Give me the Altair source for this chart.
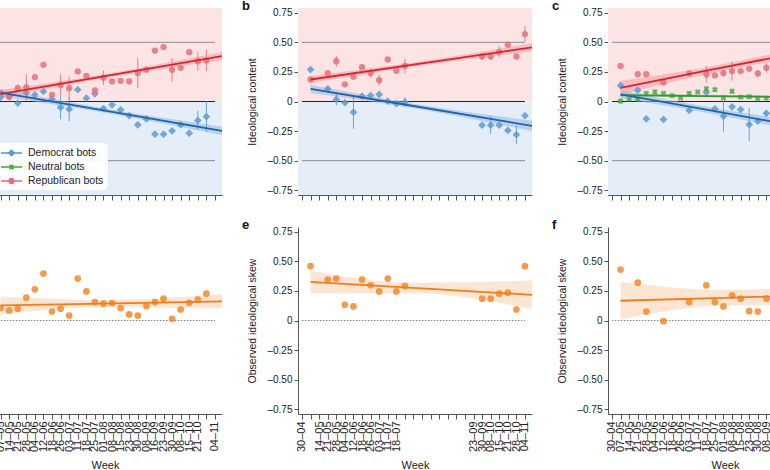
import altair as alt
import pandas as pd

FONT = "Liberation Sans"
TXT = "#222222"
AX_COL = "#555555"

# ---- weekly slots on the x axis (numbered 1..27) ----
WEEKS = ["30–04", "07–05", "14–05", "21–05", "28–05", "04–06", "12–06",
         "18–06", "26–06", "03–07", "11–07", "18–07", "25–07", "01–08",
         "08–08", "15–08", "23–08", "30–08", "08–09", "16–09", "23–09",
         "30–09", "08–10", "15–10", "21–10", "28–10", "04–11"]

# week slots that carry a tick label in each column
LABELS_A = list(range(1, 26)) + [27]
LABELS_B = [1] + list(range(3, 13)) + list(range(21, 28))
LABELS_C = list(range(1, 28))

# ---- column 1 (panels a, d) ----
A_WEEK = list(range(2, 27))
A_REP = [0.070, 0.037, 0.113, 0.120, 0.206, 0.310, 0.056, 0.140, 0.113, 0.254,
         0.217, 0.093, 0.200, 0.170, 0.175, 0.170, 0.240, 0.268, 0.430, 0.460,
         0.268, 0.285, 0.417, 0.340, 0.347]
A_REP_ERR = [0, 0, 0.03, 0.11, 0, 0, 0, 0.09, 0.10, 0, 0, 0, 0.06, 0, 0, 0,
             0.13, 0, 0, 0, 0.10, 0, 0, 0.08, 0.09]
A_DEM = [0.035, 0.048, -0.013, 0.073, 0.057, 0.085, 0.020, -0.050, -0.065, 0.100,
         0.028, 0.065, -0.060, -0.028, -0.070, -0.120, -0.197, -0.147, -0.276, -0.276,
         -0.248, -0.197, -0.268, -0.160, -0.127]
A_DEM_ERR = [0, 0, 0, 0, 0, 0, 0, 0.10, 0.10, 0, 0, 0, 0, 0, 0, 0, 0, 0, 0, 0,
             0, 0, 0, 0.08, 0.13]
D_SKEW = [0.105, 0.085, 0.100, 0.193, 0.263, 0.397, 0.076, 0.100, 0.042, 0.354,
          0.246, 0.156, 0.142, 0.147, 0.105, 0.051, 0.042, 0.122, 0.156, 0.184,
          0.014, 0.093, 0.150, 0.176, 0.227]

# ---- column 2 (panels b, e) ----
B_WEEK = [2, 4, 5, 6, 7, 8, 9, 10, 11, 12, 13, 22, 23, 24, 25, 26, 27]
B_REP = [0.186, 0.240, 0.340, 0.145, 0.210, 0.290, 0.240, 0.180, 0.355, 0.260,
         0.300, 0.380, 0.380, 0.420, 0.480, 0.380, 0.570]
B_REP_ERR = [0, 0, 0.045, 0, 0, 0.02, 0.04, 0.045, 0, 0, 0.06, 0.03, 0.02, 0.045,
             0, 0, 0.065]
B_DEM = [0.270, 0.107, 0.017, -0.010, -0.090, 0.045, 0.050, 0.060, 0.003, -0.017,
         -0.006, -0.200, -0.200, -0.200, -0.245, -0.280, -0.120]
B_DEM_ERR = [0, 0.02, 0.05, 0, 0.14, 0, 0, 0, 0, 0, 0.04, 0, 0.075, 0, 0, 0.08, 0]
E_SKEW = [0.459, 0.346, 0.354, 0.133, 0.119, 0.346, 0.297, 0.246, 0.354, 0.246,
          0.292, 0.184, 0.184, 0.227, 0.235, 0.093, 0.459]

# ---- column 3 (panels c, f) ----
C_WEEK = [2, 4, 5, 7, 10, 12, 13, 14, 15, 16, 17, 18, 19]
C_REP = [0.300, 0.230, 0.230, 0.160, 0.237, 0.230, 0.220, 0.240, 0.257, 0.257,
         0.276, 0.237, 0.285]
C_REP_ERR = [0, 0, 0, 0, 0, 0.07, 0, 0.03, 0.08, 0, 0, 0.03, 0.04]
C_DEM = [0.135, 0.096, -0.147, -0.152, -0.076, 0.079, -0.062, -0.124, -0.045,
         -0.068, -0.195, -0.166, -0.100]
C_DEM_ERR = [0, 0, 0, 0, 0, 0, 0, 0.13, 0, 0, 0.14, 0, 0.03]
C_NEU_WEEK = list(range(2, 20))
C_NEU = [0.003, 0.020, 0.020, 0.068, 0.080, 0.068, 0.050, 0.030, 0.068, 0.080,
         0.107, 0.100, 0.030, 0.087, 0.037, 0.040, 0.025, 0.028]
C_NEU_ERR = [0.02, 0, 0.02, 0, 0.02, 0, 0, 0, 0.02, 0, 0.02, 0.02, 0, 0.02, 0, 0, 0, 0]
F_SKEW = [0.430, 0.320, 0.076, -0.006, 0.156, 0.297, 0.156, 0.119, 0.212, 0.184,
          0.079, 0.076, 0.184]

# ---- linear trends: position, fitted value, half-width of the 95% band ----
A_REP_FIT = ([2, 14, 27.82], [0.063, 0.212, 0.383], [0.035, 0.018, 0.035])
A_DEM_FIT = ([2, 14, 27.82], [0.075, -0.075, -0.248], [0.030, 0.018, 0.035])
B_REP_FIT = ([2, 14, 27.82], [0.186, 0.312, 0.457], [0.030, 0.018, 0.035])
B_DEM_FIT = ([2, 14, 27.82], [0.107, -0.038, -0.206], [0.035, 0.020, 0.045])
C_REP_FIT = ([2, 12, 27.82], [0.115, 0.260, 0.483], [0.060, 0.030, 0.050])
C_DEM_FIT = ([2, 12, 27.82], [0.060, -0.069, -0.276], [0.035, 0.025, 0.060])
C_NEU_FIT = ([2, 12, 27.82], [0.054, 0.046, 0.033], [0.015, 0.010, 0.015])
D_FIT = ([2, 14, 27.82], [0.127, 0.143, 0.161], [0.075, 0.030, 0.060])
E_FIT = ([2, 14, 27.82], [0.326, 0.275, 0.217], [0.095, 0.045, 0.120])
F_FIT = ([2, 14, 27.82], [0.167, 0.192, 0.222], [0.160, 0.065, 0.090])

# ---- colours ----
REP = dict(pt="#e4717a", line="#d9232e", band="#ee9ca1")
DEM = dict(pt="#5e9ad0", line="#1f64a8", band="#8fb9e2")
NEU = dict(pt="#4aab48", line="#2f9a32", band="#93d38f")
SKEW = dict(pt="#f28a2c", line="#ef7d1a", band="#fad0ad")
BG_REP = "#fce4e4"
BG_DEM = "#e5eef8"

W, H = 234, 187
X_DOMAIN = [0.534, 27.82]
Y_DOMAIN = [-0.79, 0.79]
Y_TICKS = [-0.75, -0.5, -0.25, 0, 0.25, 0.5, 0.75]
XS = alt.Scale(domain=X_DOMAIN, nice=False, zero=False)
YS = alt.Scale(domain=Y_DOMAIN, nice=False, zero=False)

Y_LABEL_EXPR = ("datum.value == 0 ? '0' : (datum.value < 0 ? '–' : '') "
                "+ format(abs(datum.value), '.2f')")


def week_label_expr(shown):
    names = [""] + [w if i + 1 in shown else "" for i, w in enumerate(WEEKS)]
    return "[" + ",".join("'" + n + "'" for n in names) + "][datum.value]"


def x_axis(shown, bottom):
    kw = dict(values=list(range(1, 28)), tickSize=5, tickColor=AX_COL,
              domainColor=AX_COL, grid=False)
    if bottom:
        kw.update(labelExpr=week_label_expr(shown), labelAngle=270,
                  labelFontSize=11, labelPadding=2, labelOverlap=False,
                  labelColor=TXT, labelFont=FONT, titleFont=FONT,
                  titleFontSize=11, titleFontWeight="normal", titleColor=TXT,
                  titlePadding=8)
    else:
        kw.update(labels=False)
    return alt.Axis(**kw)


def y_axis():
    return alt.Axis(values=Y_TICKS, labelExpr=Y_LABEL_EXPR, tickSize=4,
                    labelPadding=2, labelFontSize=10, labelColor=TXT,
                    labelFont=FONT, titleFont=FONT, titleFontSize=10.5,
                    titleFontWeight="normal", titleColor=TXT, titlePadding=9,
                    tickColor=AX_COL, domainColor=AX_COL, grid=False)


def series_frame(weeks, vals, errs=None):
    errs = errs if errs is not None else [0] * len(vals)
    return pd.DataFrame({"k": weeks, "v": vals,
                         "lo": [v - e for v, e in zip(vals, errs)],
                         "hi": [v + e for v, e in zip(vals, errs)],
                         "e": errs})


def fit_frame(fit):
    ks, vs, hw = fit
    return pd.DataFrame({"k": ks, "v": vs,
                         "lo": [v - h for v, h in zip(vs, hw)],
                         "hi": [v + h for v, h in zip(vs, hw)]})


def panel(letter, shown, bottom, ytitle, series, fits, legend=False):
    xa = x_axis(shown, bottom)
    ya = y_axis()
    xt = "Week" if bottom else None

    def X(f):
        return alt.X(f, type="quantitative", scale=XS, axis=xa, title=xt)

    def Y(f):
        return alt.Y(f, type="quantitative", scale=YS, axis=ya, title=ytitle)

    layers = []
    if not bottom:
        bg = pd.DataFrame({"lo": [0, Y_DOMAIN[0]], "hi": [Y_DOMAIN[1], 0],
                           "fill": [BG_REP, BG_DEM]})
        layers.append(alt.Chart(bg).mark_rect().encode(
            x=alt.value(0), x2=alt.value(W), y=Y("lo"), y2="hi",
            fill=alt.Fill("fill:N", scale=None)))
        guides = pd.DataFrame({"x1": [1, 1], "x2": [27, 27], "v": [0.5, -0.5]})
        layers.append(alt.Chart(guides).mark_rule(color="#8c8c8c", strokeWidth=1)
                      .encode(x=X("x1"), x2="x2", y=Y("v")))
        zero = pd.DataFrame({"x1": [1], "x2": [27], "v": [0]})
        layers.append(alt.Chart(zero).mark_rule(color="#222222", strokeWidth=1.1)
                      .encode(x=X("x1"), x2="x2", y=Y("v")))
    else:
        zero = pd.DataFrame({"x1": [1], "x2": [27], "v": [0]})
        layers.append(alt.Chart(zero).mark_rule(color="#666666", strokeWidth=0.8,
                                                strokeDash=[1.5, 1.5])
                      .encode(x=X("x1"), x2="x2", y=Y("v")))

    for fit, col in fits:
        layers.append(alt.Chart(fit_frame(fit)).mark_area(
            color=col["band"], opacity=0.55, interpolate="monotone", clip=True)
            .encode(x=X("k"), y=Y("lo"), y2="hi"))

    for df, col, shape, size in series:
        bars = df[df["e"] > 0]
        if len(bars):
            layers.append(alt.Chart(bars).mark_rule(color=col["pt"], strokeWidth=1,
                                                    opacity=0.9)
                          .encode(x=X("k"), y=Y("lo"), y2="hi"))
        kw = dict(shape=shape, filled=True, size=size, color=col["pt"], opacity=0.85)
        if shape == "cross":
            kw["angle"] = 45
        layers.append(alt.Chart(df).mark_point(**kw).encode(x=X("k"), y=Y("v")))

    for fit, col in fits:
        layers.append(alt.Chart(fit_frame(fit)).mark_line(
            color=col["line"], strokeWidth=1.8, clip=True)
            .encode(x=X("k"), y=Y("v")))

    one = pd.DataFrame({"n": [0]})
    if legend:
        layers.append(alt.Chart(one).mark_rect(fill="white", opacity=0.92,
                                               cornerRadius=5)
                      .encode(x=alt.value(4), x2=alt.value(120),
                              y=alt.value(135), y2=alt.value(182)))
        entries = [("Democrat bots", DEM, "diamond", 55, 145),
                   ("Neutral bots", NEU, "cross", 30, 159),
                   ("Republican bots", REP, "circle", 40, 173)]
        for text, col, shape, size, yy in entries:
            layers.append(alt.Chart(one).mark_rule(color=col["pt"], strokeWidth=1.6)
                          .encode(x=alt.value(13), x2=alt.value(34), y=alt.value(yy)))
            kw = dict(shape=shape, filled=True, size=size, color=col["pt"], opacity=1)
            if shape == "cross":
                kw["angle"] = 45
            layers.append(alt.Chart(one).mark_point(**kw)
                          .encode(x=alt.value(23.5), y=alt.value(yy)))
            layers.append(alt.Chart(one).mark_text(
                text=text, align="left", baseline="middle", fontSize=10.5,
                font=FONT, color=TXT).encode(x=alt.value(40), y=alt.value(yy)))

    # panel letter, set just left of the axis title
    layers.append(alt.Chart(one).mark_text(
        text=letter, align="left", baseline="alphabetic", fontSize=13,
        fontWeight="bold", font=FONT, color="#111111")
        .encode(x=alt.value(-56), y=alt.value(1.5)))

    return alt.layer(*layers).properties(width=W, height=H)


def party_series(week, rep, rep_err, dem, dem_err, neu=None):
    out = [(series_frame(week, dem, dem_err), DEM, "diamond", 60)]
    if neu is not None:
        out.append((series_frame(*neu), NEU, "cross", 35))
    out.append((series_frame(week, rep, rep_err), REP, "circle", 40))
    return out


pa = panel("a", LABELS_A, False, "Ideological content",
           party_series(A_WEEK, A_REP, A_REP_ERR, A_DEM, A_DEM_ERR),
           [(A_REP_FIT, REP), (A_DEM_FIT, DEM)], legend=True)
pb = panel("b", LABELS_B, False, "Ideological content",
           party_series(B_WEEK, B_REP, B_REP_ERR, B_DEM, B_DEM_ERR),
           [(B_REP_FIT, REP), (B_DEM_FIT, DEM)])
pc = panel("c", LABELS_C, False, "Ideological content",
           party_series(C_WEEK, C_REP, C_REP_ERR, C_DEM, C_DEM_ERR,
                        neu=(C_NEU_WEEK, C_NEU, C_NEU_ERR)),
           [(C_REP_FIT, REP), (C_NEU_FIT, NEU), (C_DEM_FIT, DEM)])

pd_ = panel("d", LABELS_A, True, "Observed ideological skew",
            [(series_frame(A_WEEK, D_SKEW), SKEW, "circle", 45)], [(D_FIT, SKEW)])
pe = panel("e", LABELS_B, True, "Observed ideological skew",
           [(series_frame(B_WEEK, E_SKEW), SKEW, "circle", 45)], [(E_FIT, SKEW)])
pf = panel("f", LABELS_C, True, "Observed ideological skew",
           [(series_frame(C_WEEK, F_SKEW), SKEW, "circle", 45)], [(F_FIT, SKEW)])

chart = alt.vconcat(
    alt.hconcat(pa, pb, pc, spacing=20),
    alt.hconcat(pd_, pe, pf, spacing=20),
    spacing=17,
).properties(
    autosize=alt.AutoSizeParams(type="pad"),
    padding={"left": -68, "top": -1, "right": -72, "bottom": 0},
    background="white",
).configure(font=FONT).configure_view(stroke=None)

chart.save("out.html", embed_options={"renderer": "svg", "actions": False})
